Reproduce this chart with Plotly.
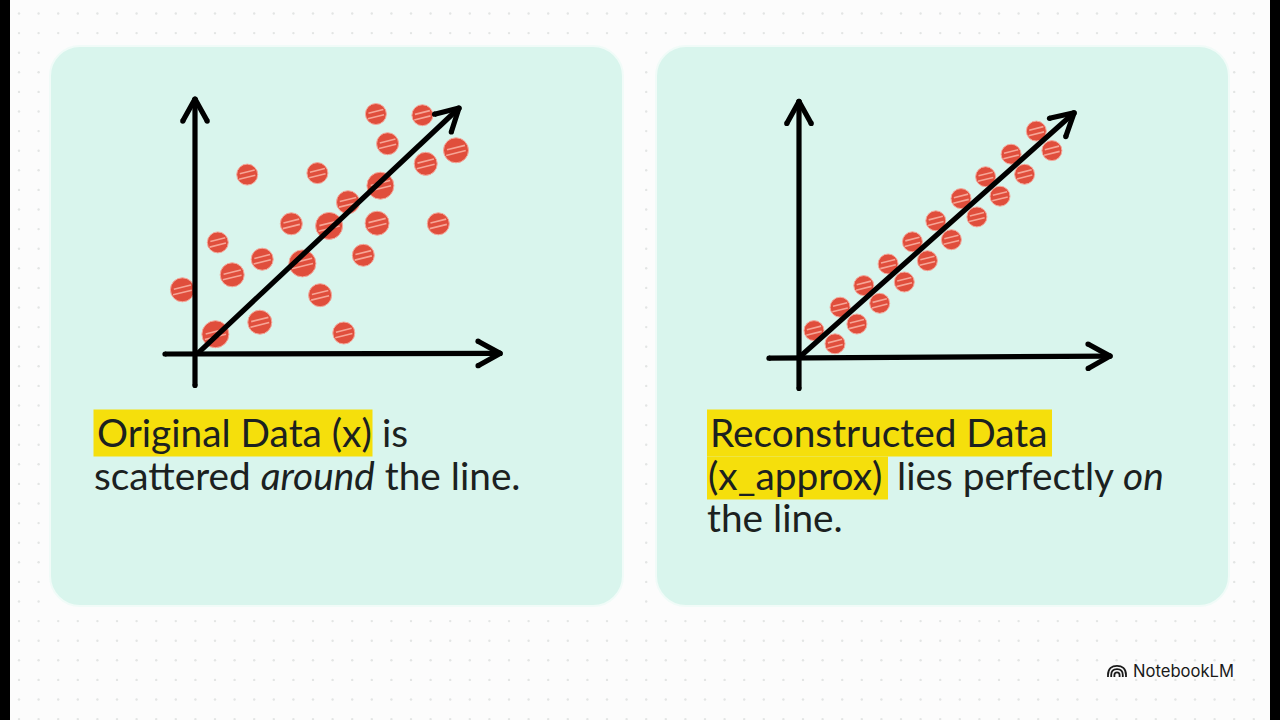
import math
import plotly.graph_objects as go

# Scatter of the raw points around the fitted direction
original_x = [6.03, 7.58, 6.42, 8.70, 7.69, 1.74, 4.08, 6.18, 5.10, 3.21, 4.47, 6.07,
              8.11, 0.76, 5.61, 2.24, 3.58, 1.24, -0.42, 4.17, 2.16, 4.96, 0.68]
original_y = [8.00, 7.96, 7.01, 6.79, 6.34, 5.98, 6.03, 5.61, 5.06, 4.34, 4.27, 4.36,
              4.34, 3.72, 3.29, 3.16, 3.02, 2.64, 2.14, 1.96, 1.06, 0.70, 0.66]
original_size = [20, 20, 21, 24, 22, 20, 20, 26, 22, 21, 26, 23, 21, 20, 21, 21, 26, 23, 23, 22, 23, 21, 26]

# Points reconstructed along the same direction
approx_x = [7.91, 8.43, 7.07, 7.52, 6.22, 6.70, 5.40, 5.93, 4.56, 5.08,
            3.78, 4.28, 2.97, 3.51, 2.16, 2.69, 1.37, 1.93, 0.50, 1.20]
approx_y = [7.53, 6.88, 6.76, 6.09, 6.01, 5.36, 5.28, 4.67, 4.54, 3.91,
            3.84, 3.21, 3.10, 2.50, 2.38, 1.79, 1.66, 1.10, 0.88, 0.44]
approx_size = [19] * 20

# Arrow ends in axis units: (start x, start y, tip x, tip y)
left_arrows = [(0.0, -1.05, 0.0, 8.5), (-1.0, 0.0, 10.17, 0.02), (0.1, 0.03, 8.8, 8.2)]
right_arrows = [(0.0, -1.05, 0.0, 8.52), (-1.0, -0.04, 10.37, 0.03), (0.03, 0.01, 9.17, 8.14)]

UNIT = 30  # pixels per axis unit
W, H = 1280, 720
CARD_TOP, CARD_BOTTOM, CARD_R = 46, 606, 30
CARDS = [(50, 623), (656, 1229)]
CARD_FILL = "#d9f5ed"
DOT = "#e04e3c"
INK = "#000000"
TEXT = "#1b2120"
YELLOW = "#f5df0c"
FONT = "Lato"
FS = 38.8


def rounded_rect(x0, y0, x1, y1, r):
    k = r * 0.45
    return (f"M {x0+r} {y0} L {x1-r} {y0} C {x1-k} {y0} {x1} {y0+k} {x1} {y0+r} "
            f"L {x1} {y1-r} C {x1} {y1-k} {x1-k} {y1} {x1-r} {y1} "
            f"L {x0+r} {y1} C {x0+k} {y1} {x0} {y1-k} {x0} {y1-r} "
            f"L {x0} {y0+r} C {x0} {y0+k} {x0+k} {y0} {x0+r} {y0} Z")


def inside_card(px, py):
    return CARD_TOP - 4 < py < CARD_BOTTOM + 4 and any(a - 4 < px < b + 4 for a, b in CARDS)


fig = go.Figure()

# Dotted page background, kept off the cards
dots_x, dots_y = [], []
for col in range(64):
    for row in range(37):
        px, py = 19 + col * 19.6, 13.5 + row * 19.6
        if not inside_card(px, py):
            dots_x.append(px)
            dots_y.append(py)
fig.add_trace(go.Scatter(x=dots_x, y=dots_y, xaxis="x", yaxis="y", mode="markers",
                         marker=dict(size=2.4, color="#e3e5e4", opacity=1), hoverinfo="skip"))


def add_panel(xs, ys, sizes, arrows, axis_x, axis_y):
    # Points: halo, body, two pale crayon strokes
    fig.add_trace(go.Scatter(x=xs, y=ys, xaxis=axis_x, yaxis=axis_y, mode="markers",
                             marker=dict(size=[s + 1 for s in sizes], color=DOT, opacity=1,
                                         line=dict(color="#f4a99c", width=1)),
                             hoverinfo="skip"))
    for shift, factor in ((0.09, 0.55), (-0.09, 0.6)):
        fig.add_trace(go.Scatter(
            x=xs, y=[v + shift for v in ys], xaxis=axis_x, yaxis=axis_y, mode="markers",
            marker=dict(size=[s * factor for s in sizes], symbol="line-ew-open", angle=-14, opacity=1,
                        color="#f6a596", line=dict(color="#f6a596", width=1.6)),
            hoverinfo="skip"))
    # Arrows: shaft and a chevron built from the shaft's direction, rounded at the ends
    for x0, y0, x1, y1 in arrows:
        angle = math.atan2(y1 - y0, x1 - x0)
        head = 0.84
        hx, hy = [], []
        for sign in (1, -1):
            a = angle + math.pi + sign * math.radians(29)
            hx.append(x1 + head * math.cos(a))
            hy.append(y1 + head * math.sin(a))
        fig.add_trace(go.Scatter(x=[x0, x1, None, hx[0], x1, hx[1]],
                                 y=[y0, y1, None, hy[0], y1, hy[1]],
                                 xaxis=axis_x, yaxis=axis_y, mode="lines+markers",
                                 line=dict(color=INK, width=5.2),
                                 marker=dict(color=INK, size=5.2, opacity=1), hoverinfo="skip"))


add_panel(original_x, original_y, original_size, left_arrows, "x2", "y2")
add_panel(approx_x, approx_y, approx_size, right_arrows, "x3", "y3")

shapes = []
for side in ((0, 10), (1270, 1280)):
    shapes.append(dict(type="rect", xref="x", yref="y", x0=side[0], x1=side[1], y0=0, y1=H,
                       fillcolor="#000000", line_width=0, layer="below"))
for a, b in CARDS:
    shapes.append(dict(type="path", xref="x", yref="y",
                       path=rounded_rect(a, CARD_TOP, b, CARD_BOTTOM, CARD_R),
                       fillcolor=CARD_FILL, line=dict(color="#f1fbf8", width=2), layer="below"))
for x0, x1, y0, y1 in ((93.5, 372.5, 409.5, 456.5), (707, 1052, 409.5, 456.5), (707, 888, 456.5, 499.5)):
    shapes.append(dict(type="rect", xref="x", yref="y", x0=x0, x1=x1, y0=y0, y1=y1,
                       fillcolor=YELLOW, line_width=0, layer="below"))
# Logo: three nested arches
for r in (9.0, 5.8, 2.6):
    cx, base = 1117, 677
    k = r * 0.55
    shapes.append(dict(type="path", xref="x", yref="y",
                       path=(f"M {cx-r} {base} L {cx-r} {base-2} C {cx-r} {base-2-k*1.3} {cx-k} {base-2-r*1.02} "
                             f"{cx} {base-2-r*1.02} C {cx+k} {base-2-r*1.02} {cx+r} {base-2-k*1.3} {cx+r} {base-2} L {cx+r} {base}"),
                       line=dict(color="#1a1a1a", width=1.8), layer="above"))

labels = [
    (94.5, 432, "Original Data (x)"),
    (380, 432, "is"),
    (91.5, 475, "scattered <i>around</i> the line."),
    (708, 432, "Reconstructed Data"),
    (705.5, 475, "(x_approx)"),
    (895, 475, "lies perfectly <i>on</i>"),
    (705, 517, "the line."),
]
annotations = [dict(x=px, y=py, xref="x", yref="y", text=t, showarrow=False, xanchor="left",
                    yanchor="middle", align="left", font=dict(family=FONT, size=FS, color=TEXT))
               for px, py, t in labels]
annotations.append(dict(x=1130.5, y=670.5, xref="x", yref="y", text="NotebookLM", showarrow=False,
                        xanchor="left", yanchor="middle",
                        font=dict(family="Inter", size=16.6, color="#1a1a1a")))


def domain_x(a, b):
    return [a / W, b / W]


def domain_y(a, b):
    return [1 - b / H, 1 - a / H]


def hidden(**kw):
    return dict(visible=False, fixedrange=True, **kw)


TOP, BOTTOM = 80, 400
fig.update_layout(
    width=W, height=H, autosize=False, showlegend=False,
    margin=dict(l=0, r=0, t=0, b=0),
    paper_bgcolor="#fcfcfc", plot_bgcolor="rgba(0,0,0,0)",
    xaxis=hidden(domain=[0, 1], range=[0, W]),
    yaxis=hidden(domain=[0, 1], range=[H, 0]),
    xaxis2=hidden(domain=domain_x(150, 520), range=[(150 - 195) / UNIT, (520 - 195) / UNIT]),
    yaxis2=hidden(domain=domain_y(TOP, BOTTOM), range=[(354 - BOTTOM) / UNIT, (354 - TOP) / UNIT]),
    xaxis3=hidden(domain=domain_x(750, 1125), range=[(750 - 799) / UNIT, (1125 - 799) / UNIT]),
    yaxis3=hidden(domain=domain_y(TOP, BOTTOM), range=[(357 - BOTTOM) / UNIT, (357 - TOP) / UNIT]),
    shapes=shapes, annotations=annotations,
)

fig.write_html("out.html")
